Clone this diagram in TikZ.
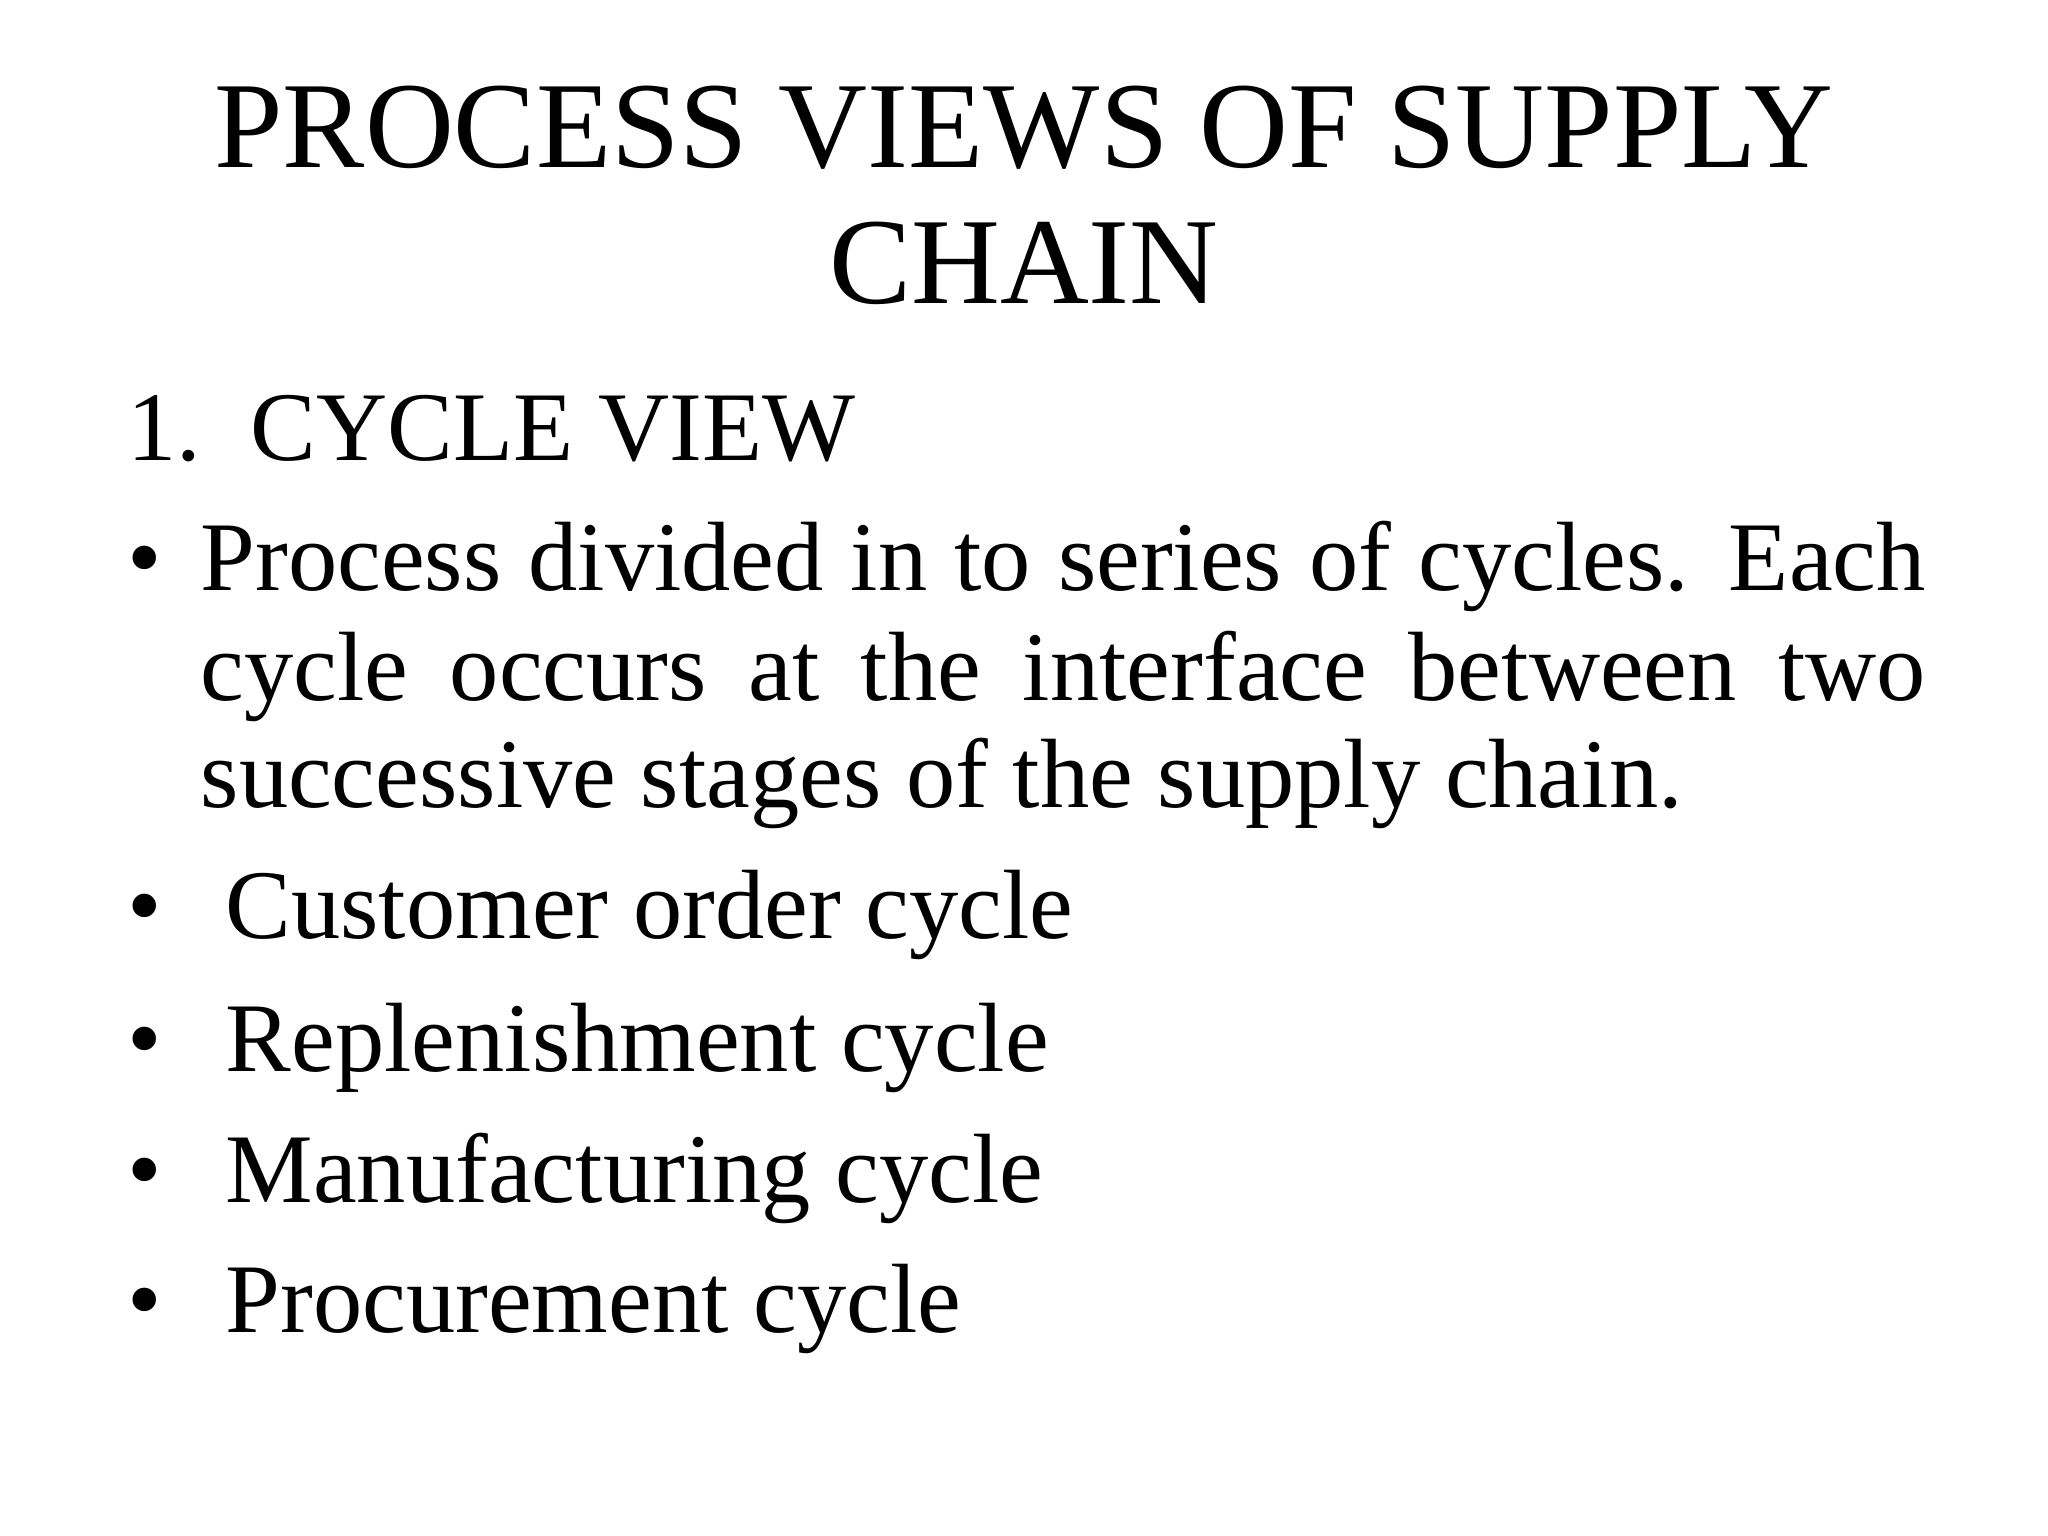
\documentclass[tikz,border=0pt]{standalone}
\usepackage{fontspec}
\setmainfont{Liberation Serif}
\begin{document}
\begin{tikzpicture}[x=0.01cm,y=-0.01cm,
  ttl/.style={font=\fontsize{35}{40}\selectfont, anchor=base, inner sep=0pt},
  body/.style={font=\fontsize{28}{32}\selectfont, anchor=base west, inner sep=0pt}]
\fill[white] (0,0) rectangle (2048,1536);
\node[ttl] (t1) at (1024,167) {PROCESS VIEWS OF SUPPLY};
\node[ttl] (t2) at (1024,303) {CHAIN};
\node[body] (h) at (127,460) {1.\ \ CYCLE VIEW};
\node[body] (b0) at (127,590) {•};
\node[body] (p1) at (200,590) {\makebox[17.24cm][s]{Process divided in to series of cycles. Each}};
\node[body] (p2) at (200,700) {\makebox[17.24cm][s]{cycle occurs at the interface between two}};
\node[body] (p3) at (200,807) {successive stages of the supply chain.};
\node[body] (b1) at (127,938) {•}; \node[body] (l1) at (225,938) {Customer order cycle};
\node[body] (b2) at (127,1071) {•}; \node[body] (l2) at (225,1071) {Replenishment cycle};
\node[body] (b3) at (127,1202) {•}; \node[body] (l3) at (225,1202) {Manufacturing cycle};
\node[body] (b4) at (127,1332) {•}; \node[body] (l4) at (225,1332) {Procurement cycle};
\end{tikzpicture}
\end{document}
